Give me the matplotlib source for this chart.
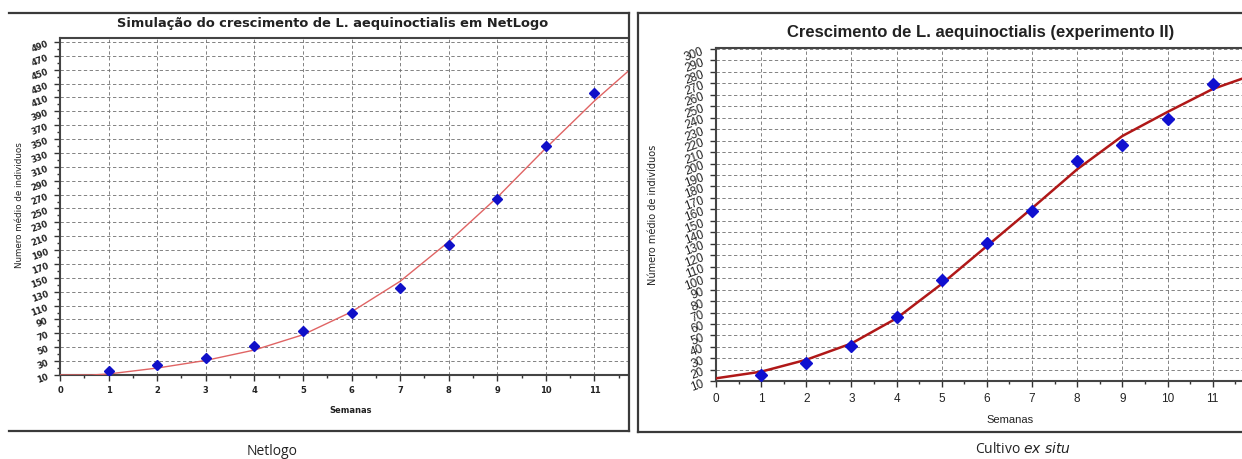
import matplotlib

matplotlib.use("Agg")
import matplotlib.pyplot as plt
from matplotlib.lines import Line2D
from matplotlib.ticker import MultipleLocator

# dados
semanas = [1, 2, 3, 4, 5, 6, 7, 8, 9, 10, 11]
netlogo_obs = [16, 24, 35, 52, 74, 99, 135, 198, 264, 340, 416]
netlogo_fit_x = [0, 0.65, 1, 2, 3, 4, 5, 6, 7, 8, 9, 10, 11, 11.73]
netlogo_fit_y = [10, 10, 11.5, 20, 31, 46, 68, 101, 145, 202, 266, 337, 405, 450]

exsitu_obs = [15.5, 26, 41, 66, 98.5, 130.5, 158.5, 202, 216.5, 239, 269.5]
exsitu_fit_x = [0, 1, 2, 3, 4, 5, 6, 7, 8, 9, 10, 11, 11.65]
exsitu_fit_y = [12.6, 18.4, 28.8, 43, 65, 95, 128, 161, 195, 224, 245, 265, 274]

x_ticks = list(range(0, 12))
W, H = 1242, 460

fig = plt.figure(figsize=(W / 100, H / 100), dpi=100)
fig.patch.set_facecolor("white")


def px(x, y):
    return x / W, 1 - y / H


def frame_line(x0, y0, x1, y1):
    a, b = px(x0, y0)
    c, d = px(x1, y1)
    fig.add_artist(Line2D([a, c], [b, d], color="#3a3a3a", lw=1.6, transform=fig.transFigure))


def style_axes(ax, ymin, ymax, ystep, yminor, xmax, lab_font, lab_size, lab_weight):
    ax.set_xlim(0, xmax)
    ax.set_ylim(ymin, ymax)
    ax.xaxis.set_major_locator(MultipleLocator(1))
    ax.xaxis.set_minor_locator(MultipleLocator(0.5))
    ax.yaxis.set_major_locator(MultipleLocator(ystep))
    ax.yaxis.set_minor_locator(MultipleLocator(yminor))
    ax.grid(True, which="major", color="#6e6e6e", lw=0.6, linestyle=(0, (4, 3)))
    ax.set_axisbelow(True)
    for s in ["left", "bottom", "top"]:
        ax.spines[s].set_color("#444444")
        ax.spines[s].set_linewidth(1.5)
    ax.spines["right"].set_visible(False)
    ax.tick_params(which="both", direction="out", color="#333333", width=1.0)
    ax.tick_params(which="major", length=4)
    ax.tick_params(which="minor", length=2.5)
    for t in ax.get_xticklabels() + ax.get_yticklabels():
        t.set_fontfamily(lab_font)
        t.set_fontsize(lab_size)
        t.set_fontweight(lab_weight)
        t.set_color("#222222")
    for t in ax.get_yticklabels():
        t.set_rotation(20)


# ---- painel esquerdo: NetLogo
frame_line(9, 14, 629, 14)
frame_line(9, 432, 629, 432)
frame_line(629, 14, 629, 432)

ax1 = fig.add_axes([60 / W, 1 - 376 / H, 568 / W, 337 / H])
ax1.plot(netlogo_fit_x, netlogo_fit_y, color="#e06464", lw=1.0, zorder=3)
ax1.plot(semanas, netlogo_obs, linestyle="none", marker="D", markersize=5.5,
         color="#1010c8", markeredgecolor="#1010c8", zorder=4)
ax1.set_xticks(x_ticks)
ax1.set_yticks(list(range(10, 491, 20)))
style_axes(ax1, 10, 495.6, 20, 10, 11.69, "DejaVu Sans", 6, "bold")
ax1.set_yticks(list(range(10, 491, 20)))
ax1.set_ylim(10, 495.6)

fig.text(*px(333, 23), "Simulação do crescimento de L. aequinoctialis em NetLogo",
         ha="center", va="center", fontsize=9.4, fontweight="bold", color="#222222",
         family="DejaVu Sans")
fig.text(*px(20, 205), "Numero médio de individuos", rotation=90, ha="center",
         va="center", fontsize=6.3, color="#222222", family="Liberation Sans Narrow")
fig.text(*px(351, 411), "Semanas", ha="center", va="center", fontsize=6,
         fontweight="bold", color="#222222", family="DejaVu Sans")
fig.text(*px(272, 452), "Netlogo", ha="center", va="center", fontsize=10,
         color="#222222", family="Open Sans")

# ---- painel direito: cultivo ex situ
frame_line(638, 14, 1242, 14)
frame_line(638, 433, 1242, 433)
frame_line(638, 14, 638, 433)

ax2 = fig.add_axes([716 / W, 1 - 382.3 / H, 526 / W, 333.3 / H])
ax2.plot(exsitu_fit_x, exsitu_fit_y, color="#b01818", lw=1.8, zorder=3)
ax2.plot(semanas, exsitu_obs, linestyle="none", marker="D", markersize=6,
         color="#1010d0", markeredgecolor="#1010d0", zorder=4)
ax2.set_xticks(x_ticks)
ax2.set_yticks(list(range(10, 301, 10)))
style_axes(ax2, 10, 300.8, 10, 10, 11.65, "Liberation Sans", 8.5, "normal")

fig.text(*px(981, 32), "Crescimento de L. aequinoctialis (experimento II)",
         ha="center", va="center", fontsize=12, fontweight="bold", color="#222222",
         family="Liberation Sans")
fig.text(*px(653, 215), "Número médio de indivíduos", rotation=90, ha="center",
         va="center", fontsize=7, color="#222222", family="Liberation Sans Narrow")
fig.text(*px(1010, 420), "Semanas", ha="center", va="center", fontsize=8,
         color="#222222", family="Liberation Sans")
fig.text(*px(1023, 450), "Cultivo $\\it{ex\\ situ}$", ha="center", va="center",
         fontsize=10, color="#222222", family="Open Sans")

fig.savefig("out.png", dpi=100, facecolor="white")
plt.close(fig)
